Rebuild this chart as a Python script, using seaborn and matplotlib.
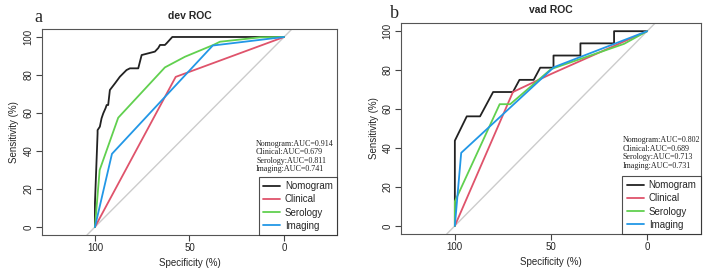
import pandas as pd
import numpy as np
import seaborn as sns
import matplotlib.pyplot as plt

MODELS = ['Nomogram', 'Clinical', 'Serology', 'Imaging']
COLORS = ['#222222', '#DF536B', '#61D04F', '#2297E6']

# dev cohort curves (specificity %, sensitivity %)
dev_nom_spec = [100, 100, 98.6, 98.6, 97.4, 96.5, 95.6, 94.4, 93.8, 93.0, 92.1, 89.4, 86.8, 83.3,
                81.5, 77.1, 75.3, 68.3, 66.5, 65.6, 63.0, 62.1, 59.1, 0]
dev_nom_sens = [0, 12.5, 49.3, 51.0, 52.8, 57.2, 59.8, 62.5, 64.2, 64.2, 72.1, 75.6, 79.1, 82.6,
                83.5, 83.5, 90.5, 92.3, 94.2, 95.8, 95.8, 96.7, 100, 100]
dev_cli_spec = [100, 57.3, 0]
dev_cli_sens = [0, 79.0, 100]
dev_ser_spec = [100, 97.5, 87.7, 63.0, 52.4, 37.4, 33.9, 12.7, 0]
dev_ser_sens = [0, 30.0, 57.5, 84.0, 89.6, 95.8, 97.5, 99.8, 100]
dev_img_spec = [100, 91.0, 37.7, 0]
dev_img_sens = [0, 38.5, 95.5, 100]

# validation cohort curves
vad_nom_spec = [100, 100, 93.8, 86.9, 80.1, 69.8, 66.4, 59.0, 55.6, 48.7, 48.7, 34.7, 34.7,
                17.2, 17.2, 0]
vad_nom_sens = [0, 43.75, 56.25, 56.25, 68.75, 68.75, 75, 75, 81.25, 81.25, 87.5, 87.5, 93.75,
                93.75, 100, 100]
vad_cli_spec = [100, 69.8, 50.0, 0]
vad_cli_sens = [0, 68.75, 78.0, 100]
vad_ser_spec = [100, 100, 76.7, 71.2, 50.0, 12.0, 0]
vad_ser_sens = [0, 12.5, 62.5, 62.5, 80.5, 93.5, 100]
vad_img_spec = [100, 96.7, 48.5, 0]
vad_img_sens = [0, 37.5, 81.5, 100]

dev_auc = [0.914, 0.679, 0.811, 0.741]
vad_auc = [0.802, 0.689, 0.713, 0.731]


def make_df(specs, senss):
    rows = []
    for m, sp, se in zip(MODELS, specs, senss):
        for a, b in zip(sp, se):
            rows.append((m, a, b))
    return pd.DataFrame(rows, columns=['model', 'spec', 'sens'])


dev_df = make_df([dev_nom_spec, dev_cli_spec, dev_ser_spec, dev_img_spec],
                 [dev_nom_sens, dev_cli_sens, dev_ser_sens, dev_img_sens])
vad_df = make_df([vad_nom_spec, vad_cli_spec, vad_ser_spec, vad_img_spec],
                 [vad_nom_sens, vad_cli_sens, vad_ser_sens, vad_img_sens])

sns.set_theme(style='white')
plt.rcParams['font.family'] = ['Liberation Sans', 'DejaVu Sans']

fig = plt.figure(figsize=(7.08, 2.77), dpi=100)
ax1 = fig.add_axes([0.0593, 0.1516, 0.4167, 0.7437])
ax2 = fig.add_axes([0.5664, 0.1552, 0.4237, 0.7617])


def roc_panel(ax, df, auc, title, tx, ty):
    ax.axline((0, 100), (100, 0), color='#cccccc', lw=1.0, zorder=1)
    sns.lineplot(data=df, x='spec', y='sens', hue='model', hue_order=MODELS,
                 palette=COLORS, sort=False, estimator=None, lw=1.3, ax=ax, zorder=3)
    ax.set_xlim(128, -28)
    ax.set_ylim(-4.2, 104.2)
    ax.set_xticks([100, 50, 0])
    ax.set_yticks([0, 20, 40, 60, 80, 100])
    ax.tick_params(axis='both', length=4, width=0.8, color='#444444', labelsize=7,
                   pad=2, bottom=True, left=True)
    for lab in ax.get_yticklabels():
        lab.set_rotation(90)
        lab.set_va('center')
    for s in ax.spines.values():
        s.set_color('#555555')
        s.set_linewidth(0.8)
    ax.set_xlabel('Specificity (%)', fontsize=7, labelpad=3)
    ax.set_ylabel('Sensitivity (%)', fontsize=7, labelpad=3)
    ax.set_title(title, fontsize=7.5, fontweight='bold', pad=7)
    h, l = ax.get_legend_handles_labels()
    leg = ax.legend(h, l, loc='lower right', borderaxespad=0, fancybox=False,
                    fontsize=7, handlelength=1.8, labelspacing=0.32,
                    borderpad=0.45, handletextpad=0.45)
    leg.get_frame().set_edgecolor('#222222')
    leg.get_frame().set_linewidth(0.8)
    for i, (m, a) in enumerate(zip(MODELS, auc)):
        ax.text(tx, ty - i * 4.4, f'{m}:AUC={a:.3f}', fontsize=5.8,
                family='Liberation Serif', va='center', ha='left', color='#222222')


roc_panel(ax1, dev_df, dev_auc, 'dev ROC', 14.8, 43.7)
roc_panel(ax2, vad_df, vad_auc, 'vad ROC', 12.7, 44.0)

fig.text(38 / 708, 1 - 17 / 277, 'a', family='Liberation Serif', fontsize=13,
         ha='center', va='center')
fig.text(394 / 708, 1 - 13 / 277, 'b', family='Liberation Serif', fontsize=13,
         ha='center', va='center')

fig.savefig('out.png', dpi=100)
